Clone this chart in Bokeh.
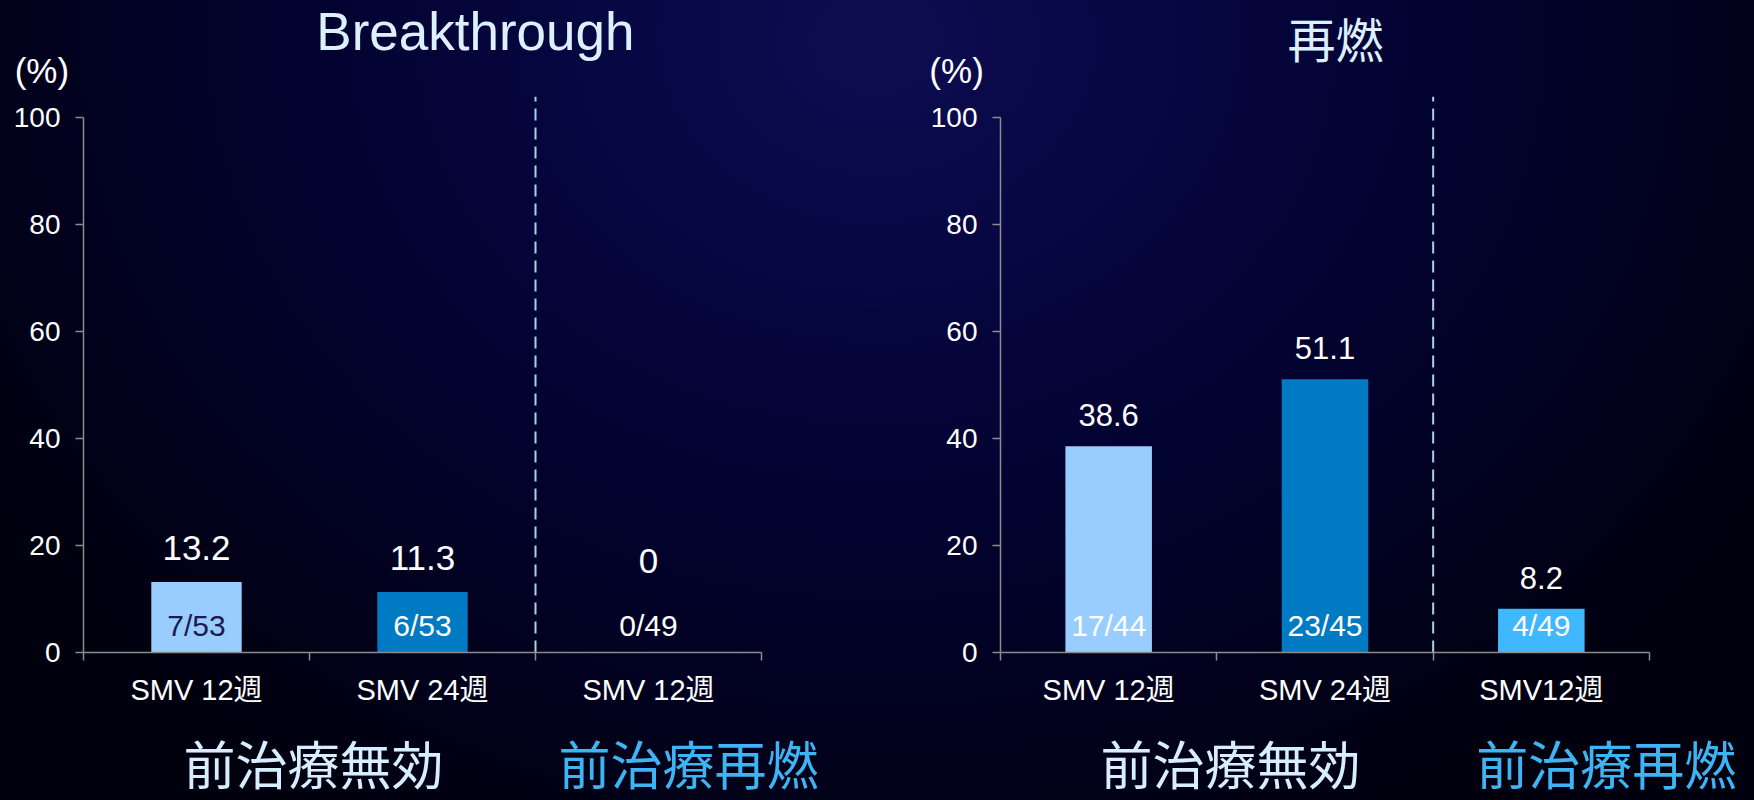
import numpy as np
from bokeh.plotting import figure
from bokeh.models import Range1d, FixedTicker, ColumnDataSource
from bokeh.layouts import row, column
from bokeh.embed import file_html
from bokeh.resources import INLINE
from bokeh.core.properties import value

# ---- data -------------------------------------------------------------
# Breakthrough panel
bt_categories = ["SMV 12週", "SMV 24週", "SMV 12週"]
bt_rate = [13.2, 11.3, 0.0]
bt_events = [7, 6, 0]
bt_total = [53, 53, 49]

# 再燃 panel
rl_categories = ["SMV 12週", "SMV 24週", "SMV12週"]
rl_rate = [38.6, 51.1, 8.2]
rl_events = [17, 23, 4]
rl_total = [44, 45, 49]

group_names = ["前治療無効", "前治療再燃"]
group_sizes = [2, 1]
y_ticks = [0, 20, 40, 60, 80, 100]

# ---- styling ------------------------------------------------------------
bar_colors = ["#99CCFF", "#007AC2", "#40B8FF"]
bt_frac_colors = ["#1B1B52", "white", "white"]
rl_frac_colors = ["white", "white", "white"]
group_colors = ["#D6EEFF", "#3DB5F5"]
AXIS_COLOR = "#8C8C8C"
TITLE_COLOR = "#DDF0FF"
LATIN = "Liberation Sans"
CJK = "Noto Sans CJK JP"
MIXED = "'Liberation Sans', 'Noto Sans CJK JP'"

FIG_W = 877
TOP_H = 96          # strip holding the title and the unit
MAIN_H = 624        # chart itself
BOT_H = 80          # strip holding the group names
FRAME_H = 556
Y_MAX = 104
EMPTY_LABEL_LEVEL = 10.8   # value labels of empty bars sit above the count


def blank(height, x_range):
    f = figure(width=FIG_W, height=height, x_range=x_range,
               y_range=Range1d(0, height), title=None,
               output_backend="svg", toolbar_location=None,
               x_axis_location=None, y_axis_location=None,
               min_border=0, min_border_left=0, min_border_right=0,
               min_border_top=0, min_border_bottom=0, frame_align=False,
               background_fill_color=None, border_fill_color=None,
               outline_line_color=None)
    f.grid.visible = False
    return f


def make_panel(title, title_font, title_size, title_x, title_cy,
               cats, rates, events, totals, frac_colors, left, frame_w,
               value_size, value_gap, pct_x, group_x):
    n = len(cats)
    cw = frame_w / n
    right = FIG_W - left - frame_w
    rates = np.asarray(rates, dtype=float)

    # ---- chart ----
    p = figure(width=FIG_W, height=MAIN_H, title=None,
               x_range=Range1d(0, n), y_range=Range1d(0, Y_MAX),
               output_backend="svg", toolbar_location=None,
               min_border_left=left, min_border_right=right,
               min_border_top=0, min_border_bottom=MAIN_H - FRAME_H,
               frame_align=False,
               background_fill_color=None, border_fill_color=None,
               outline_line_color=None)
    p.xgrid.visible = False
    p.ygrid.visible = False

    centers = np.arange(n) + 0.5

    # category axis: labels at centres, tick marks on the boundaries
    xa = p.xaxis[0]
    xa.ticker = FixedTicker(ticks=list(centers),
                            minor_ticks=list(np.arange(n + 1)))
    xa.major_label_overrides = {float(c): name for c, name in zip(centers, cats)}
    xa.bounds = (0, n)
    xa.axis_line_color = AXIS_COLOR
    xa.axis_line_width = 1.5
    xa.major_tick_line_color = None
    xa.minor_tick_line_color = AXIS_COLOR
    xa.minor_tick_line_width = 1.5
    xa.minor_tick_in = 0
    xa.minor_tick_out = 8
    xa.major_label_standoff = 13
    xa.major_label_text_font = MIXED
    xa.major_label_text_font_size = "29px"
    xa.major_label_text_color = "white"

    ya = p.yaxis[0]
    ya.ticker = FixedTicker(ticks=y_ticks)
    ya.bounds = (0, 100)
    ya.axis_line_color = AXIS_COLOR
    ya.axis_line_width = 1.5
    ya.major_tick_line_color = AXIS_COLOR
    ya.major_tick_line_width = 1.5
    ya.major_tick_in = 0
    ya.major_tick_out = 8
    ya.minor_tick_line_color = None
    ya.major_label_standoff = 15
    ya.major_label_text_font = LATIN
    ya.major_label_text_font_size = "28px"
    ya.major_label_text_color = "white"

    src = ColumnDataSource(dict(
        x=centers, top=rates, color=bar_colors,
        anchor=np.where(rates > 0, rates, EMPTY_LABEL_LEVEL),
        vlabel=[f"{r:g}" for r in rates],
        frac=[f"{e}/{t}" for e, t in zip(events, totals)],
        fcolor=frac_colors,
    ))
    p.vbar(x="x", top="top", bottom=0, width=0.4, source=src,
           fill_color="color", line_color=None)
    p.text(x="x", y="anchor", text="vlabel", source=src,
           text_align="center", text_baseline="alphabetic", y_offset=-value_gap,
           text_font=value(LATIN), text_font_size=value_size, text_color="white")
    p.text(x="x", y=0, text="frac", source=src,
           text_align="center", text_baseline="alphabetic", y_offset=-27,
           text_font=value(LATIN), text_font_size="30px", text_color="fcolor")

    # dashed divider between the treatment groups
    div_x = float(np.cumsum(group_sizes)[0])
    p.segment(x0=[div_x], y0=[0], x1=[div_x], y1=[Y_MAX],
              line_color="#A9D3E3", line_width=2, line_dash="12 7")

    # strips share the chart's horizontal scale
    x0, x1 = -left / cw, (FIG_W - left) / cw

    top = blank(TOP_H, Range1d(x0, x1))
    top.text(x=[title_x], y=[TOP_H - title_cy], text=[title],
             text_align="center", text_baseline="middle",
             text_font=value(title_font), text_font_size=title_size,
             text_color=TITLE_COLOR)
    top.text(x=[pct_x], y=[TOP_H - 70], text=["(%)"],
             text_align="center", text_baseline="middle",
             text_font=value(LATIN), text_font_size="35px", text_color="white")

    bot = blank(BOT_H, Range1d(x0, x1))
    bot.text(x=group_x, y=[38] * len(group_x), text=group_names,
             text_align="center", text_baseline="middle",
             text_font=value(CJK), text_font_size="52px",
             text_color=group_colors)

    return column(top, p, bot, spacing=0)


left_panel = make_panel("Breakthrough", LATIN, "53px", 1.734, 31,
                        bt_categories, bt_rate, bt_events, bt_total, bt_frac_colors,
                        83, 678, "35px", 34, -0.184, [1.018, 2.677])
right_panel = make_panel("再燃", CJK, "48px", 1.549, 36,
                         rl_categories, rl_rate, rl_events, rl_total, rl_frac_colors,
                         123, 649, "31px", 31, -0.203, [1.063, 2.80])

gradient = ("radial-gradient(ellipse 60% 110% at 50% 5%, "
            "#0d0d52 0%, #060640 30%, #02022c 60%, #00000e 100%)")
layout = row(left_panel, right_panel, spacing=0, styles={"background": gradient})

open("out.html", "w").write(file_html(layout, INLINE))
